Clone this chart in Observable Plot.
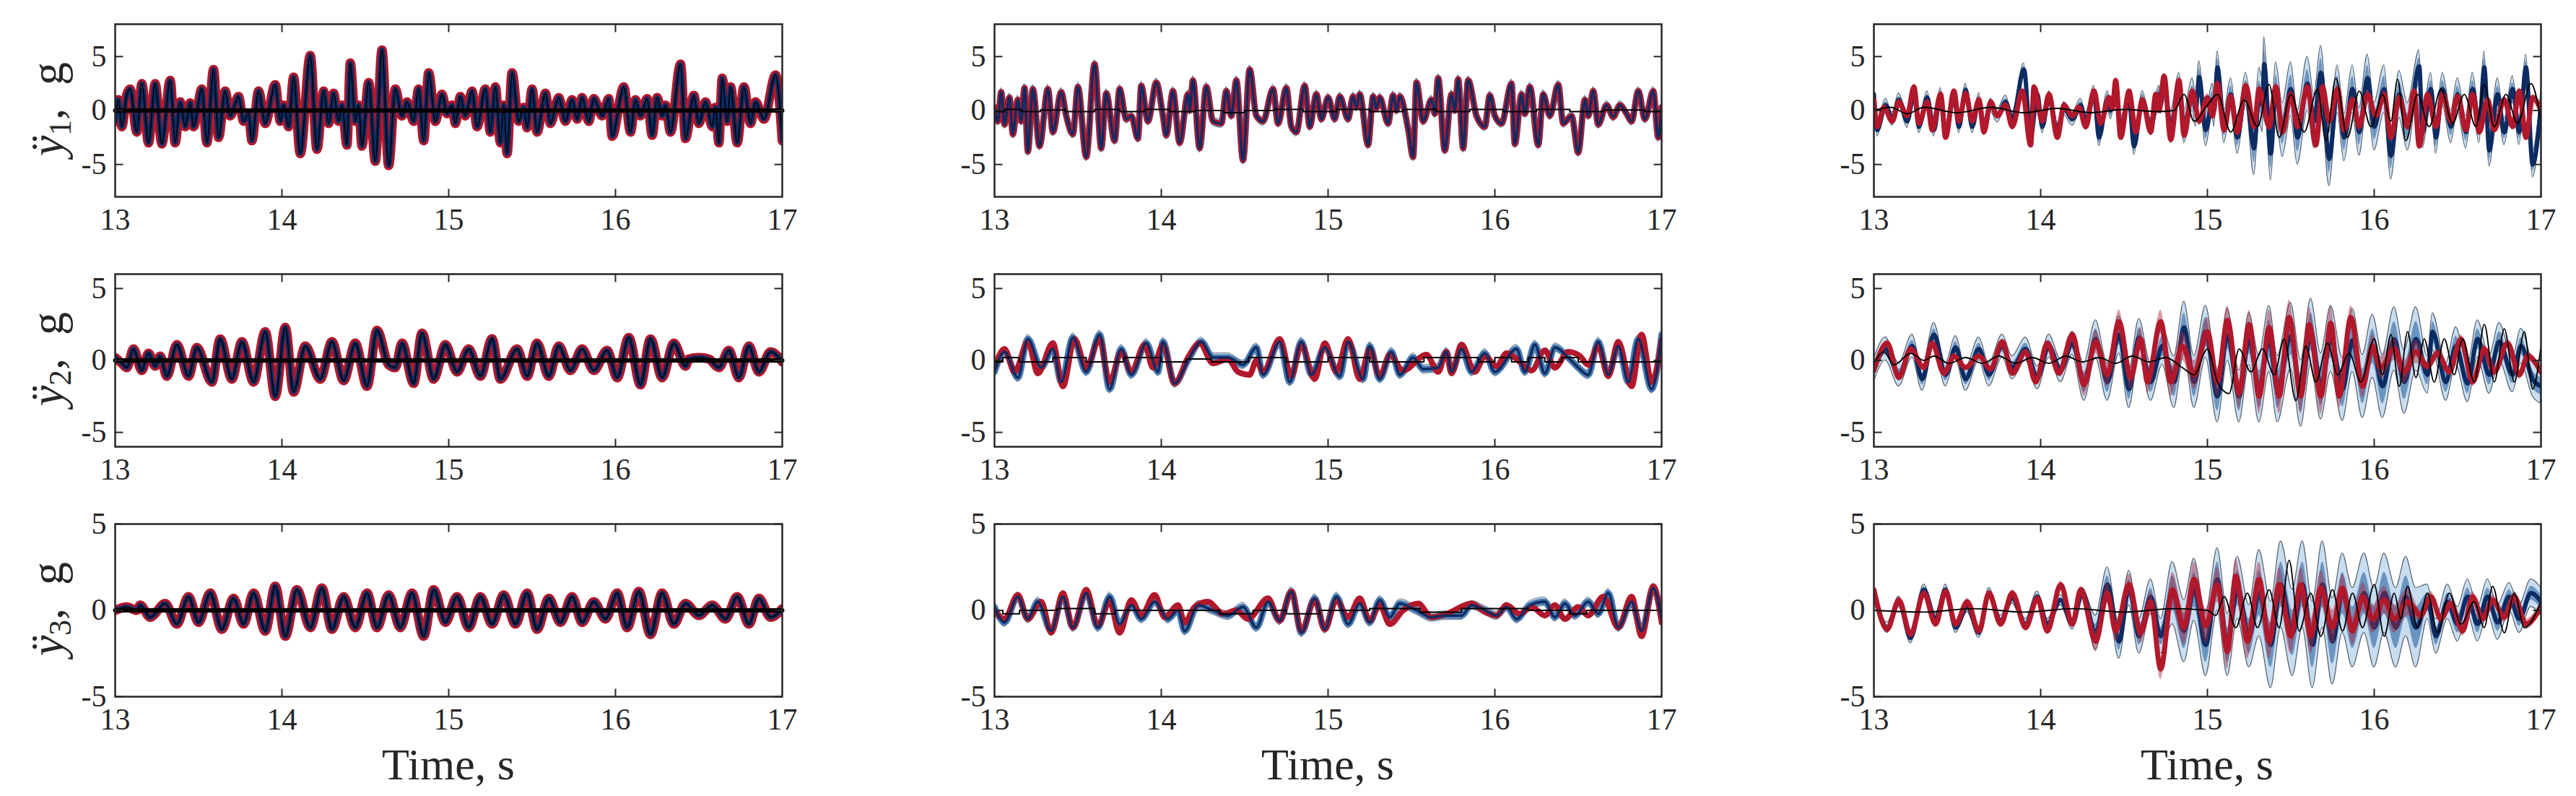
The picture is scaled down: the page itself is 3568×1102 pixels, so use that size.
<!DOCTYPE html>
<html><head><meta charset="utf-8">
<script src="https://cdn.jsdelivr.net/npm/d3@7"></script>
<script src="https://cdn.jsdelivr.net/npm/@observablehq/plot@0.6"></script>
<style>
body{margin:0;background:#fff;}
#root{position:relative;width:3568px;height:1102px;overflow:hidden;font-family:"Liberation Serif","DejaVu Serif",serif;color:#262626;}
.panel{position:absolute;}
.ylab{position:absolute;white-space:nowrap;font-size:64px;transform:translate(-50%,-50%) rotate(-90deg);line-height:1;}
.ylab sub{font-size:0.68em;vertical-align:-0.25em;}
.xlab{position:absolute;white-space:nowrap;font-size:62px;transform:translate(-50%,-50%);line-height:1;}
</style>
</head><body><div id="root"></div>
<script>
// ---------- axes / labels ----------
const xTicks = [13, 14, 15, 16, 17];
const yTicks = [-5, 0, 5];
const yDomains = [[-8, 8], [-6, 6], [-5, 5]];
const rowSubs = ["1", "2", "3"];
const xTitle = "Time, s";
const spreadGrid = [13, 13.5, 14, 14.5, 15, 15.5, 16, 16.5, 17];

// ---------- column 1 (measured ≈ predicted) ----------
const c1y1 = [[13.00,-1.0],[13.02,1.0],[13.04,-1.5],[13.07,1.5],[13.09,2.0],[13.13,-2.0],[13.16,2.5],[13.20,-3.0],[13.24,2.5],[13.28,-3.1],[13.33,2.8],[13.36,-3.0],[13.39,0.8],[13.42,-1.5],[13.45,0.7],[13.47,-1.5],[13.52,2.0],[13.55,-3.0],[13.59,3.8],[13.62,-2.5],[13.66,1.8],[13.69,-0.5],[13.74,1.3],[13.77,-1.0],[13.80,-0.3],[13.82,-2.8],[13.86,1.8],[13.90,-1.2],[13.96,2.4],[13.99,-1.0],[14.01,0.5],[14.04,-1.5],[14.07,3.1],[14.11,-4.0],[14.17,5.1],[14.21,-3.6],[14.25,1.8],[14.28,-1.2],[14.31,1.6],[14.34,-1.0],[14.36,0.5],[14.39,-3.2],[14.41,4.4],[14.44,-1.0],[14.46,0.5],[14.48,-3.3],[14.52,2.6],[14.56,-4.7],[14.60,5.6],[14.64,-5.1],[14.68,2.0],[14.72,-0.5],[14.75,0.8],[14.79,-1.0],[14.82,2.0],[14.85,-2.8],[14.88,3.5],[14.92,-1.0],[14.96,1.5],[14.99,-0.3],[15.02,0.5],[15.04,-1.2],[15.07,1.3],[15.10,-0.5],[15.14,1.8],[15.17,-1.5],[15.22,2.0],[15.25,-2.0],[15.28,2.2],[15.31,-3.0],[15.33,0.5],[15.35,-4.0],[15.38,3.5],[15.42,-1.0],[15.45,0.3],[15.47,-1.6],[15.50,2.0],[15.53,-2.0],[15.58,1.6],[15.61,-1.2],[15.66,1.2],[15.70,-1.0],[15.74,1.0],[15.77,-0.8],[15.80,1.2],[15.84,-1.0],[15.87,1.1],[15.92,-0.5],[15.96,1.1],[15.98,-2.4],[16.05,2.2],[16.09,-2.0],[16.12,1.0],[16.15,-0.5],[16.19,1.1],[16.22,-2.3],[16.25,1.2],[16.28,-0.5],[16.30,0.5],[16.33,-2.0],[16.39,4.3],[16.42,-2.6],[16.47,1.4],[16.50,-1.2],[16.54,0.8],[16.58,-1.5],[16.60,0.3],[16.62,-3.0],[16.64,3.0],[16.67,-1.0],[16.69,2.2],[16.73,-3.0],[16.77,2.2],[16.81,-1.2],[16.84,0.8],[16.89,-0.8],[16.96,3.3],[17.00,-2.8]];
const c1y2 = [[13.00,0.2],[13.04,-0.2],[13.07,-0.5],[13.11,0.8],[13.16,-0.7],[13.20,0.5],[13.24,-0.4],[13.27,0.3],[13.31,-1.1],[13.37,1.1],[13.44,-1.1],[13.49,0.9],[13.58,-1.5],[13.63,1.5],[13.70,-1.3],[13.76,1.3],[13.83,-1.5],[13.90,2.0],[13.96,-2.5],[14.02,2.3],[14.07,-2.2],[14.14,1.0],[14.23,-1.3],[14.30,1.3],[14.37,-1.4],[14.44,1.2],[14.51,-1.8],[14.57,2.1],[14.64,-0.3],[14.68,-0.5],[14.72,1.2],[14.79,-1.6],[14.84,1.9],[14.91,-1.3],[14.98,1.1],[15.05,-0.8],[15.12,0.8],[15.19,-1.1],[15.26,1.5],[15.31,-1.3],[15.41,0.8],[15.47,-1.1],[15.53,1.2],[15.60,-1.1],[15.66,1.0],[15.73,-0.7],[15.80,0.8],[15.87,-0.7],[15.95,0.7],[16.01,-1.2],[16.08,1.6],[16.15,-1.7],[16.21,1.5],[16.28,-1.2],[16.35,1.2],[16.42,-0.4],[16.44,0.1],[16.50,0.2],[16.56,0.1],[16.62,-0.5],[16.68,0.7],[16.74,-1.2],[16.80,1.0],[16.86,-0.8],[16.93,0.6],[17.00,-0.1]];
const c1y3 = [[13.00,0.0],[13.07,0.2],[13.13,0.0],[13.15,0.3],[13.21,-0.4],[13.30,0.4],[13.37,-0.8],[13.44,0.8],[13.50,-0.7],[13.57,1.0],[13.64,-1.1],[13.71,0.7],[13.77,-0.8],[13.83,1.0],[13.90,-1.2],[13.96,1.4],[14.02,-1.5],[14.09,1.2],[14.17,-1.0],[14.24,1.3],[14.30,-1.1],[14.37,0.8],[14.44,-1.0],[14.51,1.0],[14.57,-1.0],[14.64,0.9],[14.71,-1.0],[14.78,1.0],[14.85,-1.5],[14.91,1.2],[14.98,-0.7],[15.05,0.8],[15.12,-1.0],[15.19,0.8],[15.26,-0.8],[15.33,0.9],[15.40,-0.8],[15.47,1.0],[15.53,-1.1],[15.60,0.7],[15.67,-0.7],[15.74,0.8],[15.80,-0.7],[15.87,0.5],[15.94,-0.5],[16.01,1.0],[16.07,-1.0],[16.14,1.1],[16.21,-1.4],[16.28,1.0],[16.35,-0.8],[16.42,0.4],[16.50,-0.3],[16.58,0.3],[16.66,-0.5],[16.73,0.8],[16.80,-0.8],[16.86,0.7],[16.93,-0.4],[17.00,0.1]];
const c1err = [[13, 0], [17, 0]];

// ---------- column 2 ----------
const c2y1 = [[13.00,0.3],[13.02,-1.0],[13.04,1.7],[13.06,-1.3],[13.09,1.2],[13.11,-2.2],[13.14,1.0],[13.16,-1.0],[13.18,2.1],[13.20,-3.8],[13.23,2.0],[13.27,-3.3],[13.32,2.0],[13.35,-2.0],[13.40,1.7],[13.43,-0.5],[13.47,-2.2],[13.50,2.2],[13.55,-4.3],[13.60,4.3],[13.64,-3.5],[13.67,1.6],[13.72,-2.8],[13.75,2.0],[13.79,-0.8],[13.82,-0.5],[13.86,-2.6],[13.88,2.3],[13.92,-1.0],[13.97,2.6],[14.01,-0.5],[14.03,-2.3],[14.07,1.8],[14.11,-3.0],[14.16,1.5],[14.17,0.0],[14.19,2.8],[14.23,-3.5],[14.27,2.2],[14.31,-1.0],[14.36,-1.2],[14.39,1.8],[14.42,-0.5],[14.45,2.8],[14.49,-4.6],[14.53,3.8],[14.57,-0.5],[14.61,-1.0],[14.67,2.0],[14.70,-1.2],[14.75,2.1],[14.78,-1.5],[14.81,-2.0],[14.86,2.3],[14.89,-1.5],[14.93,1.5],[14.96,-0.8],[15.00,1.2],[15.04,-0.8],[15.07,1.3],[15.12,-0.8],[15.15,1.3],[15.17,0.3],[15.19,1.5],[15.24,-3.2],[15.27,1.3],[15.29,0.2],[15.31,1.2],[15.36,-1.2],[15.39,1.4],[15.41,0.0],[15.43,1.3],[15.48,-1.7],[15.51,-4.3],[15.53,2.6],[15.57,-1.0],[15.62,1.0],[15.64,-0.3],[15.66,3.0],[15.70,-3.7],[15.74,1.5],[15.76,0.0],[15.78,2.9],[15.81,-3.5],[15.84,2.8],[15.89,-0.5],[15.94,-1.5],[15.97,1.4],[16.00,-0.5],[16.04,-1.2],[16.10,2.5],[16.12,-3.1],[16.16,1.5],[16.18,-0.3],[16.21,2.2],[16.26,-3.2],[16.29,1.5],[16.33,-0.5],[16.38,2.4],[16.41,-1.2],[16.46,-0.5],[16.50,-3.9],[16.54,1.0],[16.56,-0.5],[16.59,1.8],[16.62,-1.3],[16.67,0.5],[16.71,-0.6],[16.75,0.5],[16.79,-0.3],[16.82,-1.0],[16.86,1.8],[16.90,-0.8],[16.95,1.8],[16.98,-2.5],[17.00,0.3]];
const c2y1k = [[13.0,-0.1],[13.12,0.1],[13.2,-0.1],[13.35,0.05],[13.5,-0.1],[13.7,0.1],[13.8,-0.1],[14.0,0.1],[14.1,-0.1],[14.3,0.0],[14.45,-0.2],[14.55,0.0],[14.8,0.1],[14.9,-0.1],[15.2,0.1],[15.3,-0.1],[15.6,0.1],[15.7,-0.1],[16.0,0.1],[16.1,-0.1],[16.4,0.1],[16.5,-0.1],[16.8,0.05],[17.0,-0.1]];
const c2y2r = [[13.00,-0.5],[13.06,0.8],[13.12,-0.8],[13.20,1.3],[13.26,-0.9],[13.35,1.2],[13.41,-1.8],[13.48,1.5],[13.55,-0.5],[13.63,1.5],[13.69,-1.5],[13.76,0.6],[13.82,-0.8],[13.90,1.1],[13.95,-0.5],[14.01,1.1],[14.08,-1.6],[14.16,0.2],[14.23,1.2],[14.31,-0.2],[14.40,0.1],[14.46,-0.8],[14.53,-1.0],[14.57,0.0],[14.61,-0.8],[14.71,1.5],[14.78,-1.1],[14.84,1.1],[14.92,-1.3],[14.98,1.2],[15.05,-0.8],[15.12,1.5],[15.19,-1.3],[15.25,0.8],[15.31,-1.1],[15.37,0.4],[15.45,-0.7],[15.59,0.4],[15.66,-0.8],[15.71,0.6],[15.74,-0.9],[15.80,1.1],[15.88,-0.8],[15.94,0.3],[16.01,-0.4],[16.07,0.5],[16.16,-0.2],[16.22,-0.7],[16.30,0.7],[16.36,-0.5],[16.44,0.6],[16.51,0.3],[16.56,-0.3],[16.62,1.0],[16.68,-1.1],[16.74,1.3],[16.82,-1.8],[16.88,1.8],[16.94,-1.5],[17.00,1.4]];
const c2y2b = [[13.00,-0.8],[13.06,0.6],[13.14,-1.2],[13.20,1.5],[13.28,-0.5],[13.35,0.8],[13.40,-1.5],[13.47,1.6],[13.55,-0.8],[13.63,1.8],[13.69,-2.0],[13.76,0.8],[13.82,-1.0],[13.91,1.2],[13.98,-0.8],[14.01,1.3],[14.08,-1.6],[14.16,0.0],[14.24,1.3],[14.31,0.2],[14.40,0.2],[14.49,-0.3],[14.57,0.9],[14.61,-1.0],[14.71,1.3],[14.77,-1.5],[14.84,1.3],[14.90,-1.0],[14.98,0.9],[15.07,-1.1],[15.12,1.3],[15.21,-1.3],[15.25,1.0],[15.31,-1.3],[15.38,0.6],[15.43,-1.0],[15.51,0.2],[15.57,-0.6],[15.66,-0.5],[15.71,0.6],[15.74,-0.8],[15.80,0.8],[15.86,-0.8],[15.94,0.5],[16.00,-0.8],[16.13,0.8],[16.18,-0.8],[16.24,1.1],[16.30,-0.9],[16.36,0.9],[16.44,0.2],[16.50,-0.5],[16.56,-1.0],[16.62,1.3],[16.68,-1.0],[16.74,1.0],[16.80,-1.5],[16.86,1.5],[16.94,-2.0],[17.00,1.8]];
const c2y2k = [[13.0,-0.1],[13.1,0.2],[13.2,-0.1],[13.5,0.2],[13.6,-0.1],[13.95,0.2],[14.05,-0.1],[14.25,0.1],[14.35,-0.1],[14.7,0.2],[14.8,-0.1],[15.2,0.2],[15.3,-0.1],[15.85,0.2],[15.95,-0.1],[16.05,0.2],[16.15,-0.1],[16.25,0.2],[16.35,-0.1],[16.45,0.2],[16.55,-0.1],[17.0,-0.1]];
const c2y3r = [[13.00,0.0],[13.06,-0.5],[13.14,0.9],[13.20,-0.5],[13.28,0.5],[13.34,-1.3],[13.41,1.0],[13.47,-1.0],[13.55,1.2],[13.62,-0.9],[13.69,0.5],[13.75,-1.3],[13.82,0.6],[13.88,-0.3],[13.96,0.9],[14.02,-0.4],[14.10,0.3],[14.14,-0.7],[14.20,0.2],[14.28,0.5],[14.37,-0.2],[14.45,0.0],[14.52,-0.5],[14.64,0.7],[14.71,-0.6],[14.78,1.1],[14.84,-1.2],[14.92,0.6],[14.98,-1.1],[15.05,0.6],[15.12,-0.4],[15.19,0.7],[15.25,-0.6],[15.31,0.3],[15.37,-0.8],[15.45,0.0],[15.54,0.4],[15.62,-0.4],[15.71,-0.2],[15.86,0.4],[15.94,-0.1],[16.01,-0.3],[16.07,0.3],[16.15,-0.2],[16.22,0.2],[16.30,-0.3],[16.36,0.3],[16.42,-0.5],[16.50,0.2],[16.56,-0.3],[16.65,0.8],[16.74,-1.0],[16.82,0.8],[16.88,-1.5],[16.95,1.4],[17.00,-0.7]];
const c2y3b = [[13.00,0.2],[13.06,-0.7],[13.14,0.8],[13.20,-0.5],[13.26,0.5],[13.34,-1.2],[13.41,0.8],[13.47,-1.0],[13.55,1.0],[13.62,-1.0],[13.69,0.8],[13.75,-0.8],[13.82,0.3],[13.88,-0.5],[13.96,0.5],[14.04,-0.5],[14.10,0.0],[14.14,-1.2],[14.22,0.3],[14.31,0.0],[14.40,-0.3],[14.49,0.2],[14.57,-1.0],[14.64,0.5],[14.71,-0.6],[14.78,1.1],[14.84,-1.3],[14.92,0.7],[14.98,-1.1],[15.05,0.8],[15.12,-0.8],[15.19,0.4],[15.25,-0.7],[15.31,0.6],[15.37,-0.4],[15.43,0.4],[15.53,0.0],[15.62,-0.4],[15.70,-0.3],[15.80,-0.3],[15.86,0.3],[15.94,0.0],[16.01,-0.3],[16.07,0.2],[16.13,-0.5],[16.21,0.3],[16.30,0.5],[16.36,-0.4],[16.42,0.4],[16.48,-0.3],[16.56,0.5],[16.62,-0.2],[16.68,1.0],[16.74,-1.0],[16.82,0.5],[16.88,-1.2],[16.95,1.3],[17.00,-0.5]];
const c2y3k = [[13.0,0.0],[13.1,-0.2],[13.2,0.0],[13.55,0.1],[13.65,-0.2],[13.8,0.0],[14.2,0.0],[14.5,-0.2],[14.6,0.0],[14.9,-0.2],[15.0,0.0],[15.5,0.1],[15.6,-0.1],[16.0,0.1],[16.4,0.0],[16.5,-0.2],[16.6,0.0],[17.0,0.0]];
const spC2y1 = [0.4, 0.4, 0.4, 0.4, 0.4, 0.4, 0.4, 0.4, 0.4];
const spC2y2 = [0.3, 0.3, 0.3, 0.3, 0.3, 0.3, 0.3, 0.3, 0.3];
const spC2y3 = [0.25, 0.25, 0.25, 0.25, 0.25, 0.25, 0.25, 0.25, 0.25];

// ---------- column 3 ----------
const c3y1r = [[13.00,1.0],[13.02,-1.5],[13.06,0.3],[13.11,-1.0],[13.15,0.8],[13.20,-0.5],[13.24,2.2],[13.27,-1.2],[13.32,0.8],[13.35,-1.8],[13.40,1.5],[13.43,-2.5],[13.48,1.8],[13.51,-1.0],[13.55,1.6],[13.59,-1.0],[13.63,1.0],[13.66,-2.0],[13.70,0.8],[13.74,-0.5],[13.79,0.5],[13.83,-1.5],[13.89,1.8],[13.94,-3.2],[13.96,2.2],[14.01,-1.0],[14.05,1.5],[14.10,-2.5],[14.14,0.5],[14.19,-0.5],[14.23,0.3],[14.27,-1.5],[14.32,1.8],[14.36,-1.2],[14.41,1.2],[14.43,0.2],[14.45,2.8],[14.48,-2.5],[14.53,1.8],[14.57,-2.0],[14.61,1.0],[14.66,-2.0],[14.69,1.5],[14.71,0.0],[14.74,3.2],[14.78,-2.7],[14.83,2.8],[14.86,-2.3],[14.91,1.8],[14.95,-1.0],[15.00,1.2],[15.03,-0.5],[15.06,2.5],[15.10,-1.8],[15.14,1.3],[15.18,-2.0],[15.23,2.3],[15.28,-1.5],[15.31,2.0],[15.37,-1.5],[15.41,2.2],[15.45,-2.0],[15.50,1.5],[15.54,-1.5],[15.60,2.2],[15.65,-3.2],[15.69,2.2],[15.73,-1.0],[15.78,2.0],[15.82,-1.8],[15.87,1.0],[15.91,-1.5],[15.96,1.5],[16.01,-0.5],[16.06,1.5],[16.10,-2.5],[16.15,1.2],[16.20,-1.5],[16.24,1.8],[16.27,-3.3],[16.32,1.5],[16.37,-1.5],[16.41,1.5],[16.46,-1.0],[16.50,1.3],[16.55,-1.8],[16.59,1.5],[16.63,-2.0],[16.68,1.0],[16.72,-1.8],[16.78,1.0],[16.83,-1.5],[16.87,1.8],[16.91,-2.5],[16.95,1.2],[17.00,0.0]];
const c3y1b = [[13.00,1.5],[13.02,-1.8],[13.07,0.5],[13.11,-0.8],[13.15,1.0],[13.20,-1.0],[13.24,1.5],[13.27,-1.5],[13.32,1.2],[13.36,-1.8],[13.40,1.5],[13.43,-2.0],[13.48,1.2],[13.51,-1.5],[13.55,1.9],[13.59,-1.5],[13.63,1.0],[13.66,-1.5],[13.70,0.5],[13.74,-0.5],[13.79,0.8],[13.83,-0.8],[13.90,3.8],[13.94,-2.5],[13.98,1.5],[14.01,-1.5],[14.05,1.2],[14.10,-1.8],[14.14,0.2],[14.19,-0.8],[14.24,0.5],[14.27,-1.0],[14.32,1.5],[14.35,-2.5],[14.40,1.0],[14.42,0.0],[14.45,2.0],[14.48,-1.5],[14.53,1.0],[14.56,-3.3],[14.61,1.0],[14.66,-1.5],[14.71,1.5],[14.72,0.5],[14.74,2.5],[14.78,-1.5],[14.83,2.0],[14.86,-1.5],[14.91,1.5],[14.93,0.0],[14.95,3.1],[14.99,-1.8],[15.03,1.0],[15.04,0.0],[15.06,4.0],[15.10,-1.5],[15.14,1.5],[15.18,-2.5],[15.23,2.0],[15.28,-3.5],[15.31,1.5],[15.33,0.5],[15.34,4.3],[15.38,-4.0],[15.41,2.0],[15.45,-1.8],[15.50,2.0],[15.54,-2.5],[15.60,2.5],[15.64,-1.0],[15.68,3.5],[15.73,-4.5],[15.78,2.0],[15.82,-2.5],[15.87,2.0],[15.91,-2.0],[15.96,3.0],[16.00,-1.5],[16.06,2.0],[16.10,-4.2],[16.15,1.5],[16.20,-1.5],[16.27,4.1],[16.29,-2.0],[16.34,2.0],[16.37,-2.5],[16.41,2.0],[16.46,-1.5],[16.50,1.5],[16.55,-2.0],[16.59,2.0],[16.63,-1.5],[16.66,4.0],[16.69,-3.7],[16.74,1.5],[16.78,-2.0],[16.83,2.0],[16.87,-2.0],[16.91,4.0],[16.95,-5.0],[17.00,0.5]];
const c3y1k = [[13.0,0.0],[13.1,0.3],[13.2,-0.3],[13.3,0.3],[13.5,-0.2],[13.7,0.3],[13.9,-0.2],[14.1,0.2],[14.3,-0.2],[14.5,0.1],[14.7,-0.1],[14.8,0.0],[14.86,1.5],[14.92,-1.0],[15.00,0.5],[15.06,1.5],[15.14,-2.0],[15.22,1.0],[15.30,-1.5],[15.37,2.4],[15.43,-2.5],[15.50,1.5],[15.58,-2.0],[15.66,2.0],[15.71,-2.8],[15.77,3.0],[15.84,-2.5],[15.91,1.8],[15.98,-1.5],[16.05,1.5],[16.10,-1.0],[16.14,2.9],[16.19,-2.8],[16.26,1.5],[16.33,-1.5],[16.40,2.0],[16.47,-1.2],[16.54,1.5],[16.61,-1.5],[16.66,2.4],[16.72,-1.5],[16.79,1.5],[16.86,-1.2],[16.94,2.5],[17.00,-1.0]];
const c3y2r = [[13.00,-0.7],[13.08,1.2],[13.15,-1.2],[13.22,0.8],[13.30,-0.5],[13.35,1.2],[13.42,-0.9],[13.48,0.3],[13.55,-0.5],[13.63,0.3],[13.70,-0.6],[13.77,1.3],[13.83,-0.9],[13.91,0.6],[13.97,-1.5],[14.04,1.2],[14.11,-0.9],[14.19,1.8],[14.26,-1.7],[14.33,1.3],[14.40,-1.0],[14.47,2.7],[14.54,-1.2],[14.60,1.5],[14.64,-1.5],[14.72,2.7],[14.78,-1.5],[14.85,1.0],[14.92,-1.0],[15.00,2.0],[15.06,-1.5],[15.12,2.8],[15.19,-2.3],[15.25,2.5],[15.31,-2.5],[15.37,2.3],[15.43,-2.5],[15.49,3.0],[15.56,-2.5],[15.61,2.5],[15.68,-2.5],[15.74,2.6],[15.79,-2.5],[15.86,3.0],[15.93,-1.8],[15.99,1.0],[16.04,-0.5],[16.12,0.8],[16.18,-0.8],[16.25,0.6],[16.32,-0.4],[16.38,0.5],[16.45,-0.8],[16.52,1.5],[16.59,-1.5],[16.66,0.8],[16.72,-0.8],[16.80,1.2],[16.87,-1.0],[16.92,0.3],[17.00,-0.8]];
const c3y2b = [[13.00,-0.7],[13.07,0.8],[13.15,-1.0],[13.23,1.0],[13.29,-1.3],[13.36,1.8],[13.43,-1.0],[13.49,0.9],[13.55,-1.3],[13.63,0.8],[13.69,-1.0],[13.77,1.0],[13.83,-0.5],[13.91,0.8],[13.98,-1.2],[14.05,1.0],[14.12,-0.7],[14.19,1.2],[14.26,-1.5],[14.33,1.5],[14.40,-1.5],[14.47,1.8],[14.53,-2.0],[14.59,1.6],[14.66,-1.5],[14.73,1.0],[14.80,-1.5],[14.86,2.3],[14.92,-1.5],[14.99,2.0],[15.06,-2.5],[15.12,1.8],[15.19,-2.5],[15.25,1.5],[15.31,-2.0],[15.37,1.5],[15.42,-2.0],[15.50,1.7],[15.56,-2.3],[15.62,2.0],[15.68,-1.8],[15.74,1.5],[15.81,-2.0],[15.87,1.4],[15.93,-1.8],[15.99,1.0],[16.05,-1.8],[16.12,1.5],[16.18,-1.5],[16.25,1.5],[16.32,-1.0],[16.35,2.0],[16.43,-1.5],[16.49,1.0],[16.56,-1.6],[16.62,1.5],[16.69,-1.0],[16.75,1.3],[16.83,-1.0],[16.88,1.0],[16.95,-1.3],[17.00,-1.8]];
const c3y2k = [[13.00,-0.2],[13.06,0.6],[13.12,-0.3],[13.22,0.5],[13.30,0.0],[13.36,0.3],[13.45,-0.2],[13.55,0.2],[13.65,-0.2],[13.75,0.3],[13.85,-0.2],[13.95,0.2],[14.05,-0.2],[14.15,0.3],[14.25,-0.1],[14.35,0.2],[14.45,-0.2],[14.55,0.3],[14.65,-0.1],[14.75,0.2],[14.85,-0.5],[14.92,-1.0],[15.00,0.8],[15.06,-1.5],[15.13,-2.3],[15.19,0.8],[15.26,-0.8],[15.33,0.8],[15.40,-1.0],[15.46,1.5],[15.53,-2.8],[15.59,1.0],[15.65,-1.5],[15.72,1.2],[15.78,-1.0],[15.85,0.5],[15.92,-1.5],[16.00,1.5],[16.05,-1.0],[16.10,1.8],[16.15,-1.8],[16.20,2.0],[16.25,-1.2],[16.30,1.5],[16.36,-1.5],[16.42,1.5],[16.48,-1.0],[16.53,1.5],[16.60,-1.5],[16.66,2.5],[16.72,-1.5],[16.78,2.2],[16.84,-1.5],[16.90,2.0],[16.95,-2.0],[17.00,1.0]];
const c3y3r = [[13.00,1.2],[13.08,-1.1],[13.15,0.6],[13.22,-1.4],[13.30,1.0],[13.37,-0.8],[13.43,1.1],[13.49,-0.8],[13.56,0.5],[13.63,-1.2],[13.69,1.0],[13.76,-0.8],[13.83,1.0],[13.91,-1.0],[13.98,0.7],[14.04,-1.2],[14.12,1.5],[14.19,-0.8],[14.24,1.2],[14.33,-1.8],[14.40,1.0],[14.45,-1.2],[14.53,1.5],[14.60,-1.3],[14.66,0.5],[14.72,-3.4],[14.79,1.2],[14.86,-1.0],[14.92,1.8],[14.99,-0.9],[15.06,1.5],[15.12,-2.4],[15.17,2.0],[15.24,-1.8],[15.31,1.8],[15.37,-1.8],[15.43,1.5],[15.50,-1.5],[15.56,1.5],[15.62,-1.5],[15.68,1.3],[15.75,-1.0],[15.81,1.3],[15.87,-1.2],[15.93,0.8],[15.99,-0.5],[16.06,0.6],[16.12,-0.5],[16.20,0.5],[16.28,-0.3],[16.34,0.8],[16.40,-0.5],[16.46,0.4],[16.53,-1.2],[16.59,0.8],[16.65,-0.5],[16.71,0.6],[16.78,-0.4],[16.84,0.8],[16.91,-0.8],[17.00,0.2]];
const c3y3b = [[13.00,1.0],[13.08,-1.0],[13.15,0.5],[13.22,-1.6],[13.30,1.2],[13.37,-0.5],[13.43,1.2],[13.49,-1.0],[13.56,0.2],[13.63,-1.3],[13.69,1.0],[13.76,-0.6],[13.83,0.7],[13.91,-0.8],[13.98,0.8],[14.04,-0.8],[14.12,0.6],[14.19,-0.8],[14.25,1.0],[14.33,-1.3],[14.40,1.5],[14.47,-1.8],[14.53,1.3],[14.59,-1.5],[14.66,0.8],[14.72,-1.5],[14.79,1.0],[14.86,-1.2],[14.92,1.2],[14.99,-2.0],[15.06,1.8],[15.12,-2.0],[15.18,1.3],[15.25,-1.5],[15.31,1.0],[15.38,-2.0],[15.44,1.5],[15.51,-1.3],[15.57,1.5],[15.63,-2.0],[15.69,1.5],[15.75,-1.8],[15.81,1.0],[15.87,-1.0],[15.94,1.0],[16.00,-1.0],[16.06,1.0],[16.13,-1.0],[16.19,0.8],[16.25,-1.0],[16.32,0.5],[16.37,-1.5],[16.44,0.5],[16.50,-0.8],[16.56,0.8],[16.62,-0.8],[16.68,0.8],[16.74,-0.7],[16.81,0.8],[16.87,-0.5],[16.94,1.0],[17.00,0.5]];
const c3y3k = [[13.0,0.0],[13.3,-0.1],[13.6,0.1],[13.9,-0.1],[14.2,0.1],[14.5,-0.1],[14.8,0.1],[15.0,0.0],[15.05,-0.3],[15.10,0.8],[15.17,-1.0],[15.24,1.0],[15.30,-1.0],[15.37,1.2],[15.43,-1.0],[15.49,2.9],[15.55,-1.2],[15.62,1.0],[15.68,-1.5],[15.75,1.2],[15.81,-1.2],[15.87,1.0],[15.93,-1.0],[16.00,1.5],[16.06,-1.5],[16.12,1.0],[16.16,-0.5],[16.20,1.4],[16.26,-1.0],[16.32,1.0],[16.38,-1.3],[16.45,1.0],[16.52,-0.8],[16.60,0.5],[16.66,-1.0],[16.71,1.4],[16.78,-1.3],[16.84,1.0],[16.90,-1.0],[17.00,0.5]];
// band half-widths read at spreadGrid times
const spC3y1 = [0.6, 0.6, 0.6, 0.8, 1.5, 2.5, 2.2, 1.5, 1.2];
const spC3y2 = [0.8, 0.8, 0.8, 1.3, 1.8, 2.3, 2.2, 1.3, 1.2];
const spC3y3 = [0.3, 0.3, 0.3, 1.0, 1.8, 2.5, 2.3, 1.0, 0.8];
const spC3y1m = [0.3, 0.3, 0.3, 0.5, 0.8, 1.3, 1.2, 0.8, 0.6];
const spC3y2m = [0.4, 0.4, 0.4, 0.7, 1.0, 1.3, 1.2, 0.7, 0.6];
const spC3y3m = [0.15, 0.15, 0.15, 0.5, 1.0, 1.3, 1.2, 0.5, 0.4];
const spC3y1r = [0.3, 0.3, 0.3, 0.3, 0.4, 0.4, 0.4, 0.3, 0.3];
const spC3y2r = [0.2, 0.2, 0.2, 0.8, 1.0, 1.2, 0.8, 0.3, 0.3];
const spC3y3r = [0.2, 0.2, 0.2, 0.6, 1.0, 1.0, 0.8, 0.3, 0.3];

// ---------- layout ----------
const W = 924, H = 239, ML = 120, MR = 30, MT = 12, MB = 70, TICK = 11;
const colLeft = [159, 1377, 2595], rowTop = [33, 379, 725];
const RED = "#b2182b", NAVY = "#0b2b63", MID = "#4a7bb0", LIGHT = "#c9ddf0", INK = "#262626";

const panels = [
  {row:0, col:0, type:1, red:c1y1, blue:c1y1, black:c1err},
  {row:1, col:0, type:1, red:c1y2, blue:c1y2, black:c1err},
  {row:2, col:0, type:1, red:c1y3, blue:c1y3, black:c1err},
  {row:0, col:1, type:2, red:c2y1, blue:c2y1, black:c2y1k, band:spC2y1},
  {row:1, col:1, type:2, red:c2y2r, blue:c2y2b, black:c2y2k, band:spC2y2},
  {row:2, col:1, type:2, red:c2y3r, blue:c2y3b, black:c2y3k, band:spC2y3},
  {row:0, col:2, type:3, red:c3y1r, blue:c3y1b, black:c3y1k, band:spC3y1, mid:spC3y1m, redBand:spC3y1r},
  {row:1, col:2, type:3, red:c3y2r, blue:c3y2b, black:c3y2k, band:spC3y2, mid:spC3y2m, redBand:spC3y2r},
  {row:2, col:2, type:3, red:c3y3r, blue:c3y3b, black:c3y3k, band:spC3y3, mid:spC3y3m, redBand:spC3y3r}
];

function withSpread(series, spread) {
  return series.map(([t, v]) => ({t, v, w: spread[d3.minIndex(spreadGrid, g => Math.abs(g - t))]}));
}
const X = d => d[0], Y = d => d[1];
function band(series, spread, opts) {
  return Plot.areaY(withSpread(series, spread), {x: "t", y1: d => d.v - d.w, y2: d => d.v + d.w, curve: "monotone-x", clip: true, ...opts});
}
function line(series, opts) {
  return Plot.line(series, {x: X, y: Y, curve: "monotone-x", clip: true, strokeLinejoin: "round", strokeLinecap: "round", ...opts});
}

const root = document.getElementById("root");

for (const p of panels) {
  const [y0, y1] = yDomains[p.row];
  const marks = [];
  if (p.type === 1) {
    marks.push(line(p.red, {stroke: RED, strokeWidth: 13}));
    marks.push(line(p.blue, {stroke: NAVY, strokeWidth: 6.5}));
    marks.push(line(p.blue, {stroke: "#000", strokeWidth: 1.6}));
    marks.push(Plot.line(p.black, {x: X, y: Y, stroke: "#000", strokeWidth: 6}));
  } else if (p.type === 2) {
    marks.push(band(p.blue, p.band, {fill: LIGHT, stroke: "#6d7a88", strokeWidth: 1}));
    marks.push(line(p.blue, {stroke: MID, strokeWidth: 9}));
    marks.push(line(p.red, {stroke: RED, strokeWidth: 8}));
    marks.push(line(p.blue, {stroke: NAVY, strokeWidth: 3.5}));
    marks.push(line(p.black, {stroke: "#000", strokeWidth: 2, curve: "step"}));
  } else {
    marks.push(band(p.blue, p.band, {fill: LIGHT, stroke: "#55606c", strokeWidth: 1.2}));
    marks.push(band(p.blue, p.mid, {fill: MID, fillOpacity: 0.75}));
    marks.push(line(p.blue, {stroke: NAVY, strokeWidth: 6}));
    marks.push(band(p.red, p.redBand, {fill: "#a8283e", fillOpacity: 0.45}));
    marks.push(line(p.red, {stroke: RED, strokeWidth: 7}));
    marks.push(line(p.black, {stroke: "#000", strokeWidth: 1.8}));
  }
  // inward tick marks on all four sides (length TICK px converted to data units)
  const inner = xTicks.slice(1, -1);
  const ty = TICK * (y1 - y0) / H, tx = TICK * (17 - 13) / W;
  const tickStyle = {stroke: INK, strokeWidth: 2};
  marks.push(
    Plot.link(inner, {x1: d => d, x2: d => d, y1: y0, y2: y0 + ty, ...tickStyle}),
    Plot.link(inner, {x1: d => d, x2: d => d, y1: y1, y2: y1 - ty, ...tickStyle}),
    Plot.link(yTicks, {y1: d => d, y2: d => d, x1: 13, x2: 13 + tx, ...tickStyle}),
    Plot.link(yTicks, {y1: d => d, y2: d => d, x1: 17, x2: 17 - tx, ...tickStyle}),
    Plot.frame({stroke: INK, strokeWidth: 2.5})
  );
  const svg = Plot.plot({
    width: W + ML + MR, height: H + MT + MB,
    marginLeft: ML, marginRight: MR, marginTop: MT, marginBottom: MB,
    x: {domain: [13, 17], ticks: xTicks, tickSize: 0, tickPadding: 16, tickFormat: d => String(d), label: null},
    y: {domain: [y0, y1], ticks: yTicks, tickSize: 0, tickPadding: 12, tickFormat: d => String(d), label: null},
    style: {fontFamily: "Liberation Serif, DejaVu Serif, serif", fontSize: "42px", color: INK, background: "transparent", overflow: "visible"},
    marks
  });
  svg.classList.add("panel");
  svg.style.left = (colLeft[p.col] - ML) + "px";
  svg.style.top = (rowTop[p.row] - MT) + "px";
  svg.style.position = "absolute";
  root.appendChild(svg);
}

// y labels
rowSubs.forEach((s, i) => {
  const d = document.createElement("div");
  d.className = "ylab";
  d.style.left = "70px";
  d.style.top = (rowTop[i] + H / 2 - 2) + "px";
  d.innerHTML = `<i>ÿ</i><sub>${s}</sub>,&nbsp;&nbsp;g`;
  root.appendChild(d);
});
// x titles
colLeft.forEach(x0 => {
  const d = document.createElement("div");
  d.className = "xlab";
  d.style.left = (x0 + W / 2) + "px";
  d.style.top = "1058px";
  d.textContent = xTitle;
  root.appendChild(d);
});
</script>
</body></html>
